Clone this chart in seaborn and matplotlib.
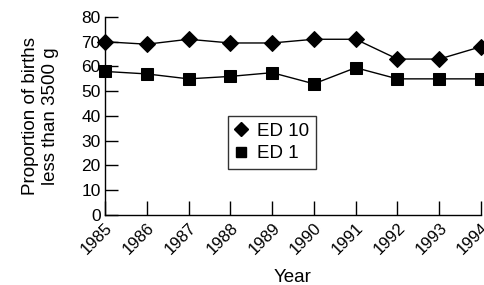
import pandas as pd
import seaborn as sns
import matplotlib.pyplot as plt
from matplotlib.lines import Line2D

years = [1985, 1986, 1987, 1988, 1989, 1990, 1991, 1992, 1993, 1994]
ed10 = [70, 69, 71, 69.5, 69.5, 71, 71, 63, 63, 68]
ed1 = [58, 57, 55, 56, 57.5, 53, 59.5, 55, 55, 55]
series_names = ["ED 10", "ED 1"]

df = pd.DataFrame({
    "Year": years * 2,
    "value": ed10 + ed1,
    "series": [series_names[0]] * len(years) + [series_names[1]] * len(years),
})

sns.set_theme(style="ticks")
plt.rcParams['font.family'] = ['Liberation Sans', 'DejaVu Sans']
plt.rcParams['text.color'] = 'black'
plt.rcParams['xtick.color'] = 'black'
plt.rcParams['ytick.color'] = 'black'
plt.rcParams['axes.labelcolor'] = 'black'

fig = plt.figure(figsize=(4.85, 2.85), dpi=100)
ax = fig.add_axes([0.2165, 0.2456, 0.7753, 0.6948])

sns.lineplot(data=df, x="Year", y="value", hue="series", style="series",
             markers={"ED 10": "D", "ED 1": "s"}, dashes=False,
             palette={"ED 10": "black", "ED 1": "black"},
             markersize=8, linewidth=1, markeredgecolor="black",
             clip_on=False, legend=False, ax=ax)

ax.set_xlim(1985, 1994)
ax.set_ylim(0, 80)
ax.set_xticks(years)
ax.set_xticklabels([str(y) for y in years], rotation=45, ha="right",
                   rotation_mode="anchor", fontsize=12)
ax.set_yticks(range(0, 81, 10))
ax.tick_params(axis="y", labelsize=12.5, direction="in", length=9, width=1, pad=3)
ax.tick_params(axis="x", direction="in", length=10, width=1, pad=4)
sns.despine(ax=ax)
for s in ["left", "bottom"]:
    ax.spines[s].set_linewidth(1)
    ax.spines[s].set_color("black")

ax.set_xlabel("Year", fontsize=13.5, labelpad=8)
ax.set_ylabel("Proportion of births\nless than 3500 g", fontsize=13.5,
              labelpad=16, linespacing=1.25)

handles = [Line2D([], [], marker="D", color="black", linestyle="", markersize=7),
           Line2D([], [], marker="s", color="black", linestyle="", markersize=7)]
leg = ax.legend(handles, series_names, loc="upper left",
                bbox_to_anchor=(0.328, 0.50), frameon=True, fancybox=False,
                edgecolor="black", fontsize=13.5, handlelength=0.7,
                handletextpad=0.5, borderpad=0.35, labelspacing=0.3,
                borderaxespad=0)
leg.get_frame().set_linewidth(1)

fig.savefig("out.png", dpi=100)
